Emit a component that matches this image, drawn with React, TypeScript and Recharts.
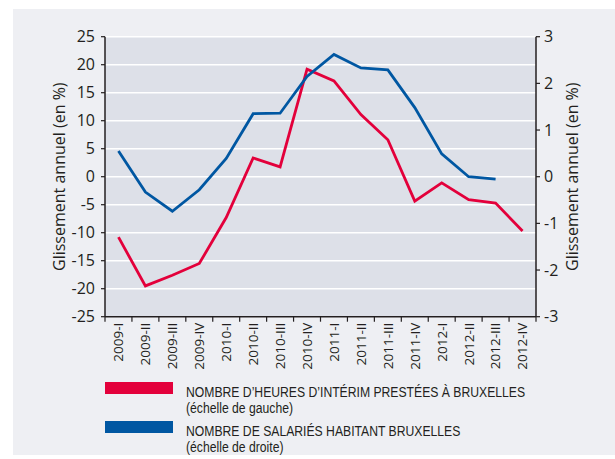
import { CartesianGrid, Legend, Line, LineChart, XAxis, YAxis } from "recharts";

const quarters = [
  "2009-I", "2009-II", "2009-III", "2009-IV",
  "2010-I", "2010-II", "2010-III", "2010-IV",
  "2011-I", "2011-II", "2011-III", "2011-IV",
  "2012-I", "2012-II", "2012-III", "2012-IV",
];
// left scale, %
const interimHours = [-10.8, -19.5, -17.6, -15.5, -7.3, 3.35, 1.75, 19.2, 17.1, 11.1, 6.6, -4.35, -1.1, -4.1, -4.7, -9.7];
// right scale, %
const residentEmployees = [0.55, -0.33, -0.74, -0.28, 0.39, 1.35, 1.36, 2.15, 2.62, 2.33, 2.29, 1.48, 0.49, 0.0, -0.05, null];

const leftTicks = [-25, -20, -15, -10, -5, 0, 5, 10, 15, 20, 25];
const rightTicks = [-3, -2, -1, 0, 1, 2, 3];

const seriesNames = [
  "NOMBRE D’HEURES D’INTÉRIM PRESTÉES À BRUXELLES",
  "NOMBRE DE SALARIÉS HABITANT BRUXELLES",
];
const seriesNotes = ["(échelle de gauche)", "(échelle de droite)"];
const axisTitle = "Glissement annuel (en %)";

const data = quarters.map((quarter, i) => ({
  quarter,
  interim: interimHours[i],
  salaries: residentEmployees[i],
}));

const RED = "#e3003b";
const BLUE = "#0057a2";
const INK = "#231f20";
const FONT = "'Open Sans', sans-serif";

const PLOT_WIDTH = 431;
const BAND = PLOT_WIDTH / quarters.length;

function QuarterTick(props: any) {
  const { x, y, payload, index } = props;
  const axisY = y - 6;
  return (
    <g>
      <line x1={x - BAND / 2} x2={x - BAND / 2} y1={axisY} y2={axisY + 5} stroke={INK} strokeWidth={1.2} />
      {index === quarters.length - 1 && (
        <line x1={x + BAND / 2} x2={x + BAND / 2} y1={axisY} y2={axisY + 5} stroke={INK} strokeWidth={1.2} />
      )}
      <text
        x={x}
        y={y}
        transform={`rotate(-90 ${x} ${y})`}
        textAnchor="end"
        dy="0.36em"
        fontSize={13.5}
        fontFamily={FONT}
        fill={INK}
      >
        {payload.value}
      </text>
    </g>
  );
}

function AxisTitle(props: any) {
  const { viewBox, baseX } = props;
  const cy = viewBox.y + viewBox.height / 2;
  return (
    <text
      x={baseX}
      y={cy}
      transform={`rotate(-90 ${baseX} ${cy})`}
      textAnchor="middle"
      fontSize={16}
      fontFamily={FONT}
      fill={INK}
    >
      {axisTitle}
    </text>
  );
}

// condensed look: Liberation Sans squeezed horizontally
function LegendBox(props: any) {
  const items = [...(props.payload || [])].sort(
    (a: any, b: any) => seriesNames.indexOf(a.value) - seriesNames.indexOf(b.value)
  );
  return (
    <div style={{ fontFamily: "'Liberation Sans', Arial, sans-serif", fontSize: 14, lineHeight: "16px", color: INK }}>
      {items.map((entry: any) => (
        <div key={entry.value} style={{ display: "flex", height: 39 }}>
          <span style={{ width: 68, height: 12, background: entry.color, flex: "none" }} />
          <div
            style={{
              marginLeft: 13,
              paddingTop: 2,
              whiteSpace: "nowrap",
              transform: "scaleX(0.87)",
              transformOrigin: "0 0",
            }}
          >
            <div>{entry.value}</div>
            <div>{seriesNotes[seriesNames.indexOf(entry.value)]}</div>
          </div>
        </div>
      ))}
    </div>
  );
}

export default function App() {
  return (
    <div
      style={{
        position: "absolute",
        left: 13,
        top: 9,
        width: 602,
        height: 446,
        background: "#eeeff3",
      }}
    >
      <LineChart
        width={602}
        height={446}
        data={data}
        margin={{ top: 27.7, right: 29, bottom: 78.3, left: 32 }}
      >
        <CartesianGrid yAxisId="left" vertical={false} stroke="#ffffff" strokeWidth={1.5} fill="#dde0e8" />
        <XAxis
          dataKey="quarter"
          interval={0}
          padding={{ left: BAND / 2, right: BAND / 2 }}
          height={60}
          tickLine={false}
          tickSize={5}
          tickMargin={1}
          tick={<QuarterTick />}
          axisLine={{ stroke: INK, strokeWidth: 1.5 }}
        />
        <YAxis
          yAxisId="left"
          orientation="left"
          domain={[-25, 25]}
          ticks={leftTicks}
          interval={0}
          width={60}
          tickSize={4}
          tickMargin={6}
          axisLine={{ stroke: INK, strokeWidth: 1.5 }}
          tickLine={{ stroke: INK, strokeWidth: 1.2 }}
          tick={{ fontSize: 16, fontFamily: FONT, fill: INK }}
          label={<AxisTitle baseX={52} />}
        />
        <YAxis
          yAxisId="right"
          orientation="right"
          domain={[-3, 3]}
          ticks={rightTicks}
          interval={0}
          width={50}
          tickSize={4}
          tickMargin={4}
          axisLine={{ stroke: INK, strokeWidth: 1.5 }}
          tickLine={{ stroke: INK, strokeWidth: 1.2 }}
          tick={{ fontSize: 16, fontFamily: FONT, fill: INK }}
          label={<AxisTitle baseX={565} />}
        />
        <Line
          yAxisId="left"
          dataKey="interim"
          name={seriesNames[0]}
          stroke={RED}
          strokeWidth={2.8}
          dot={false}
          type="linear"
          isAnimationActive={false}
        />
        <Line
          yAxisId="right"
          dataKey="salaries"
          name={seriesNames[1]}
          stroke={BLUE}
          strokeWidth={2.8}
          dot={false}
          type="linear"
          isAnimationActive={false}
        />
        <Legend
          layout="horizontal"
          verticalAlign="middle"
          align="center"
          wrapperStyle={{ top: 373, left: 92, width: 460, height: 80 }}
          content={<LegendBox />}
        />
      </LineChart>
    </div>
  );
}
